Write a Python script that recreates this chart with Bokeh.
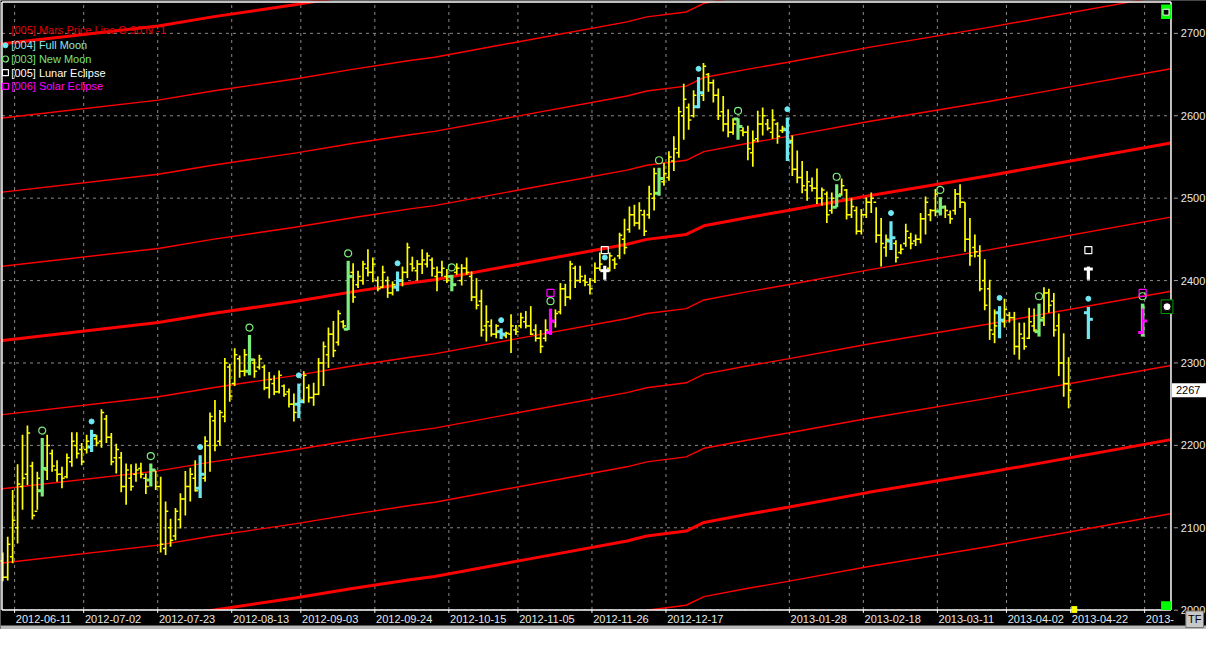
from bokeh.plotting import figure
from bokeh.models import ColumnDataSource, Range1d
from bokeh.core.properties import value
from bokeh.embed import file_html
from bokeh.resources import INLINE

# ---------------- data ----------------
high = [2070, 2089, 2146, 2177, 2213, 2224, 2180, 2168, 2209, 2213, 2195, 2182, 2174, 2190, 2216, 2216, 2203, 2213, 2219, 2213,
        2244, 2237, 2215, 2202, 2192, 2178, 2177, 2178, 2179, 2166, 2178, 2169, 2162, 2132, 2111, 2124, 2142, 2169, 2173, 2182,
        2188, 2211, 2240, 2255, 2243, 2306, 2299, 2318, 2309, 2317, 2334, 2305, 2310, 2298, 2289, 2285, 2291, 2274, 2269, 2263,
        2275, 2290, 2274, 2276, 2306, 2326, 2343, 2351, 2364, 2352, 2424, 2421, 2412, 2424, 2438, 2428, 2405, 2418, 2405, 2399,
        2411, 2417, 2446, 2429, 2425, 2438, 2434, 2428, 2417, 2424, 2414, 2407, 2421, 2420, 2428, 2411, 2403, 2389, 2370, 2353,
        2347, 2342, 2338, 2359, 2346, 2361, 2363, 2369, 2347, 2340, 2353, 2366, 2365, 2397, 2396, 2424, 2418, 2418, 2407, 2403,
        2422, 2434, 2418, 2434, 2428, 2458, 2475, 2490, 2492, 2495, 2486, 2515, 2537, 2537, 2543, 2557, 2575, 2611, 2639, 2615,
        2631, 2647, 2664, 2652, 2644, 2633, 2624, 2608, 2597, 2597, 2586, 2588, 2582, 2606, 2610, 2596, 2608, 2592, 2588, 2598,
        2576, 2558, 2545, 2533, 2525, 2536, 2513, 2508, 2507, 2517, 2524, 2511, 2500, 2490, 2487, 2501, 2507, 2489, 2476, 2456,
        2472, 2449, 2444, 2469, 2458, 2456, 2482, 2502, 2487, 2511, 2501, 2491, 2485, 2511, 2517, 2495, 2476, 2456, 2443, 2426,
        2401, 2365, 2369, 2378, 2362, 2362, 2349, 2349, 2367, 2366, 2372, 2392, 2390, 2385, 2360, 2336, 2307]
low = [2035, 2036, 2057, 2081, 2122, 2152, 2110, 2122, 2138, 2158, 2168, 2156, 2148, 2160, 2174, 2184, 2176, 2190, 2192, 2199,
       2197, 2203, 2176, 2166, 2143, 2128, 2145, 2156, 2160, 2141, 2150, 2146, 2070, 2067, 2077, 2085, 2099, 2115, 2132, 2144,
       2136, 2156, 2168, 2193, 2200, 2228, 2253, 2272, 2282, 2284, 2285, 2282, 2292, 2267, 2257, 2261, 2263, 2259, 2246, 2229,
       2233, 2251, 2252, 2248, 2261, 2272, 2294, 2307, 2321, 2342, 2340, 2373, 2391, 2395, 2405, 2398, 2387, 2391, 2379, 2382,
       2387, 2393, 2403, 2411, 2400, 2408, 2416, 2405, 2387, 2405, 2397, 2387, 2407, 2394, 2407, 2375, 2365, 2332, 2326, 2332,
       2330, 2329, 2330, 2312, 2334, 2342, 2342, 2334, 2326, 2312, 2326, 2334, 2343, 2359, 2369, 2377, 2391, 2397, 2393, 2383,
       2397, 2412, 2401, 2411, 2414, 2426, 2432, 2458, 2466, 2462, 2454, 2475, 2485, 2503, 2515, 2521, 2533, 2549, 2571, 2583,
       2598, 2609, 2618, 2629, 2616, 2595, 2581, 2574, 2577, 2571, 2575, 2546, 2538, 2568, 2576, 2582, 2572, 2566, 2579, 2545,
       2527, 2518, 2506, 2497, 2508, 2493, 2491, 2470, 2481, 2489, 2503, 2474, 2476, 2456, 2456, 2476, 2482, 2446, 2417, 2429,
       2437, 2422, 2432, 2441, 2438, 2442, 2445, 2456, 2472, 2478, 2479, 2476, 2469, 2480, 2488, 2435, 2418, 2428, 2387, 2364,
       2328, 2324, 2330, 2343, 2349, 2310, 2304, 2316, 2329, 2338, 2332, 2345, 2361, 2332, 2284, 2259, 2245]
opn = [2060, 2040, 2065, 2100, 2150, 2165, 2175, 2120, 2145, 2170, 2190, 2170, 2165, 2162, 2180, 2200, 2195, 2195, 2198, 2208,
       2205, 2232, 2210, 2185, 2185, 2150, 2160, 2165, 2172, 2160, 2158, 2170, 2150, 2075, 2100, 2090, 2110, 2135, 2150, 2160,
       2148, 2160, 2200, 2230, 2205, 2235, 2295, 2275, 2305, 2290, 2290, 2300, 2295, 2295, 2270, 2275, 2265, 2272, 2265, 2250,
       2250, 2255, 2270, 2258, 2262, 2300, 2310, 2335, 2325, 2350, 2341, 2410, 2395, 2400, 2415, 2410, 2400, 2392, 2400, 2385,
       2392, 2400, 2410, 2420, 2412, 2420, 2420, 2425, 2405, 2410, 2405, 2405, 2410, 2400, 2415, 2405, 2380, 2375, 2345, 2345,
       2335, 2338, 2333, 2335, 2340, 2345, 2350, 2345, 2340, 2330, 2330, 2337, 2350, 2362, 2390, 2380, 2415, 2400, 2400, 2395,
       2400, 2415, 2412, 2415, 2425, 2430, 2450, 2462, 2480, 2470, 2480, 2480, 2500, 2506, 2520, 2525, 2545, 2555, 2600, 2610,
       2600, 2611, 2625, 2650, 2640, 2625, 2605, 2590, 2580, 2596, 2582, 2580, 2555, 2572, 2590, 2590, 2580, 2590, 2582, 2583,
       2570, 2535, 2525, 2510, 2515, 2512, 2500, 2505, 2485, 2489, 2505, 2510, 2480, 2485, 2460, 2480, 2495, 2495, 2455, 2440,
       2448, 2445, 2434, 2445, 2452, 2448, 2450, 2475, 2480, 2485, 2484, 2490, 2480, 2485, 2505, 2495, 2450, 2440, 2430, 2400,
       2390, 2335, 2361, 2350, 2358, 2355, 2320, 2330, 2330, 2345, 2338, 2355, 2385, 2375, 2345, 2300, 2275]
cls = [2040, 2080, 2109, 2153, 2160, 2215, 2115, 2160, 2172, 2200, 2175, 2165, 2160, 2185, 2205, 2190, 2180, 2205, 2212, 2203,
       2240, 2210, 2180, 2195, 2150, 2170, 2150, 2170, 2165, 2150, 2170, 2150, 2080, 2120, 2085, 2120, 2135, 2150, 2165, 2145,
       2165, 2205, 2235, 2200, 2240, 2300, 2260, 2310, 2290, 2310, 2304, 2290, 2305, 2270, 2280, 2265, 2285, 2262, 2250, 2240,
       2253, 2285, 2258, 2262, 2300, 2320, 2335, 2315, 2360, 2345, 2405, 2380, 2405, 2420, 2410, 2420, 2390, 2410, 2385, 2395,
       2400, 2410, 2440, 2415, 2420, 2425, 2430, 2415, 2410, 2415, 2400, 2395, 2415, 2415, 2410, 2380, 2370, 2340, 2350, 2335,
       2345, 2335, 2336, 2345, 2338, 2355, 2345, 2335, 2330, 2320, 2340, 2351, 2360, 2390, 2380, 2420, 2400, 2405, 2398, 2390,
       2415, 2420, 2412, 2430, 2420, 2455, 2440, 2480, 2470, 2485, 2460, 2505, 2530, 2524, 2530, 2550, 2560, 2605, 2620, 2595,
       2625, 2628, 2660, 2640, 2625, 2600, 2590, 2580, 2590, 2587, 2580, 2560, 2570, 2590, 2600, 2585, 2595, 2575, 2585, 2568,
       2535, 2525, 2515, 2520, 2512, 2500, 2510, 2480, 2500, 2503, 2515, 2480, 2490, 2460, 2480, 2495, 2500, 2455, 2445, 2450,
       2452, 2428, 2438, 2460, 2445, 2450, 2475, 2495, 2485, 2505, 2489, 2485, 2475, 2505, 2495, 2450, 2430, 2435, 2390, 2370,
       2340, 2345, 2352, 2365, 2355, 2320, 2335, 2320, 2350, 2340, 2352, 2385, 2370, 2340, 2300, 2275, 2267]

full_moon_bars = [18, 40, 60, 80, 101, 122, 141, 159, 180, 202]
new_moon_bars = [8, 30, 50, 70, 91, 111, 133, 149, 169, 190, 210]
lunar_eclipse_bars = [122]
solar_eclipse_bars = [111]

# projected events (right of the last bar)
proj_full_moon = {"i": 220, "high": 2368, "low": 2329, "open": 2361, "close": 2353, "dot": 2378}
proj_lunar = {"i": 220, "high": 2417, "low": 2401, "mark": 2414, "square": 2437}
proj_new_moon = {"i": 231, "high": 2372, "low": 2332, "circle": 2381}
proj_solar = {"i": 231, "high": 2366, "low": 2335, "open": 2337, "close": 2351, "square": 2385}

# Mars price line (base harmonic), sampled at bar positions
mars_x = [-0.5, 31.5, 42.5, 59.5, 70.5, 82.5, 87.5, 106.5, 126.5, 130.5, 138.5, 142.1, 150.5, 159.1, 175.5, 199.5, 236.7]
mars_base = [2327, 2349, 2360, 2375, 2386, 2397, 2401, 2422, 2444, 2450, 2456, 2466.5, 2476, 2485, 2503, 2527, 2567]
mars_step = 90
mars_harmonics = [-5, -4, -3, -2, -1, 0, 1, 2, 3, 4]

date_grid = [2.4, 16.4, 31.4, 46.4, 60.4, 75.4, 90.4, 104.4, 119.4, 134.4, 159.4, 174.4, 189.4, 203.4, 216.4, 231.4]
date_labels = ["2012-06-11", "2012-07-02", "2012-07-23", "2012-08-13", "2012-09-03", "2012-09-24", "2012-10-15",
               "2012-11-05", "2012-11-26", "2012-12-17", "2013-01-28", "2013-02-18", "2013-03-11", "2013-04-02",
               "2013-04-22", "2013-"]
price_ticks = [2000, 2100, 2200, 2300, 2400, 2500, 2600, 2700]
last_price = 2267

# ---------------- styling ----------------
FONT = "Liberation Sans"
YELLOW = "#FFFF00"
CYAN = "#6FE8F2"
GREEN = "#7CEE7C"
MAGENTA = "#FF00FF"
WHITE = "#FFFFFF"
RED = "#FF0000"
GRID = "#8a8a8a"
LABEL = "#E8E8E8"


# layout helpers: position in the original screenshot (pixels) -> data coordinates
def X(px):
    return (px - 2.3) / 5.0


def Y(py):
    return 2300 - (py - 371.7) / 0.845


FR_L, FR_R = X(1.5), X(1186)       # plot frame (bars area) edges
FR_T, FR_B = Y(1.5), Y(625)

p = figure(width=1206, height=629, output_backend="svg", toolbar_location=None,
           x_range=Range1d(X(0), X(1222)), y_range=Range1d(Y(645), Y(0)),
           background_fill_color="black", border_fill_color="black",
           min_border=0, x_axis_type=None, y_axis_type=None)
p.outline_line_color = None
p.grid.visible = False

# dashed grid (date verticals, price horizontals)
p.segment(date_grid, [FR_B] * len(date_grid), date_grid, [FR_T] * len(date_grid),
          line_color=GRID, line_dash="3 4", line_width=1)
p.segment([FR_L] * len(price_ticks), price_ticks, [FR_R] * len(price_ticks), price_ticks,
          line_color=GRID, line_dash="3 4", line_width=1)

# Mars price lines
for k in mars_harmonics:
    ys = [b + k * mars_step for b in mars_base]
    thick = (k % 4 == 0)
    p.line(mars_x, ys, line_color=RED, line_width=3 if thick else 1.4)

# bars
n = len(high)
special = set(full_moon_bars) | set(new_moon_bars) | set(lunar_eclipse_bars) | set(solar_eclipse_bars)


def bar_color(i):
    if i in lunar_eclipse_bars:
        return WHITE
    if i in solar_eclipse_bars:
        return MAGENTA
    if i in full_moon_bars:
        return CYAN
    if i in new_moon_bars:
        return GREEN
    return YELLOW


norm = [i for i in range(n) if i not in special]
spec = [i for i in range(n) if i in special]

src_n = ColumnDataSource(dict(x=norm, h=[high[i] for i in norm], l=[low[i] for i in norm],
                              o=[opn[i] for i in norm], c=[cls[i] for i in norm],
                              xl=[i - 0.55 for i in norm], xr=[i + 0.55 for i in norm]))
p.segment("x", "l", "x", "h", source=src_n, line_color=YELLOW, line_width=1.7)
p.segment("xl", "o", "x", "o", source=src_n, line_color=YELLOW, line_width=1.5)
p.segment("x", "c", "xr", "c", source=src_n, line_color=YELLOW, line_width=1.5)

src_s = ColumnDataSource(dict(x=spec, h=[high[i] for i in spec], l=[low[i] for i in spec],
                              o=[opn[i] for i in spec], c=[cls[i] for i in spec],
                              xl=[i - 0.9 for i in spec], xr=[i + 0.9 for i in spec],
                              col=[bar_color(i) for i in spec]))
p.segment("x", "l", "x", "h", source=src_s, line_color="col", line_width=3.2)
p.segment("xl", "o", "x", "o", source=src_s, line_color="col", line_width=3)
p.segment("x", "c", "xr", "c", source=src_s, line_color="col", line_width=3)

# event markers above bars
p.scatter(full_moon_bars, [high[i] + 10 for i in full_moon_bars], marker="circle",
          size=5, fill_color=CYAN, line_color=CYAN)
p.scatter(new_moon_bars, [high[i] + 9 for i in new_moon_bars], marker="circle",
          size=7, fill_color=None, line_color=GREEN, line_width=1.2)
p.scatter(lunar_eclipse_bars, [high[i] + 19 for i in lunar_eclipse_bars], marker="square",
          size=7, fill_color=None, line_color=WHITE, line_width=1.2)
p.scatter(solar_eclipse_bars, [high[i] + 19 for i in solar_eclipse_bars], marker="square",
          size=7, fill_color=None, line_color=MAGENTA, line_width=1.2)

# projected events
f = proj_full_moon
p.segment([f["i"]], [f["low"]], [f["i"]], [f["high"]], line_color=CYAN, line_width=3.2)
p.segment([f["i"] - 0.9], [f["open"]], [f["i"]], [f["open"]], line_color=CYAN, line_width=3)
p.segment([f["i"]], [f["close"]], [f["i"] + 0.9], [f["close"]], line_color=CYAN, line_width=3)
p.scatter([f["i"]], [f["dot"]], marker="circle", size=5, fill_color=CYAN, line_color=CYAN)
le = proj_lunar
p.segment([le["i"]], [le["low"]], [le["i"]], [le["high"]], line_color=WHITE, line_width=3.2)
p.segment([le["i"] - 0.9], [le["mark"]], [le["i"] + 0.9], [le["mark"]], line_color=WHITE, line_width=3)
p.scatter([le["i"]], [le["square"]], marker="square", size=7, fill_color=None, line_color=WHITE, line_width=1.2)
nm = proj_new_moon
p.segment([nm["i"]], [nm["low"]], [nm["i"]], [nm["high"]], line_color=GREEN, line_width=3.6)
p.scatter([nm["i"]], [nm["circle"]], marker="circle", size=7, fill_color=None, line_color=GREEN, line_width=1.2)
se = proj_solar
p.segment([se["i"]], [se["low"]], [se["i"]], [se["high"]], line_color=MAGENTA, line_width=2)
p.segment([se["i"] - 0.9], [se["open"]], [se["i"]], [se["open"]], line_color=MAGENTA, line_width=3)
p.segment([se["i"]], [se["close"]], [se["i"] + 0.9], [se["close"]], line_color=MAGENTA, line_width=3)
p.scatter([se["i"]], [se["square"]], marker="square", size=7, fill_color=None, line_color=MAGENTA, line_width=1.2)

# masks outside the frame (bottom strip, right strip, top sliver)
p.quad(left=[X(0)], right=[X(1222)], bottom=[Y(645)], top=[FR_B], fill_color="black", line_color=None)
p.quad(left=[FR_R], right=[X(1222)], bottom=[Y(645)], top=[Y(0)], fill_color="black", line_color=None)
p.quad(left=[X(0)], right=[X(1222)], bottom=[FR_T], top=[Y(0)], fill_color="black", line_color=None)
p.quad(left=[X(0)], right=[X(1222)], bottom=[Y(645)], top=[Y(641)], fill_color="#B8B8B8", line_color=None)

# white frame
p.segment([FR_L, FR_L, FR_R, FR_L], [FR_B, FR_T, FR_T, FR_B], [FR_L, FR_R, FR_R, FR_R], [FR_T, FR_T, FR_B, FR_B],
          line_color=WHITE, line_width=1.5)

# price axis (right)
p.segment([X(1189)] * len(price_ticks), price_ticks, [X(1193)] * len(price_ticks), price_ticks,
          line_color="#A0A0A0", line_width=1)
p.text([X(1196)] * len(price_ticks), price_ticks, text=[str(t) for t in price_ticks], text_color=LABEL,
       text_font=value(FONT), text_font_size="11px", text_baseline="middle", text_align="left")

# date axis (bottom)
p.segment(date_grid, [FR_B] * len(date_grid), date_grid, [Y(628)] * len(date_grid),
          line_color=WHITE, line_width=1)
p.text([g + 0.25 for g in date_grid], [Y(634)] * len(date_grid), text=date_labels, text_color=LABEL,
       text_font=value(FONT), text_font_size="11px", text_baseline="middle", text_align="left")

# legend
legend_rows = [("[005] Mars Price Line G 90 N -1", "#E00000", 30),
               ("[004] Full Moon", "#8FE6E6", 46),
               ("[003] New Moon", "#7CE07C", 60),
               ("[005] Lunar Eclipse", WHITE, 74),
               ("[006] Solar Eclipse", MAGENTA, 88)]
for txt, col, py in legend_rows:
    p.text([X(11)], [Y(py)], text=[txt], text_color=col, text_font=value(FONT),
           text_font_size="11px", text_baseline="middle", text_align="left")
p.scatter([X(5)], [Y(46)], marker="circle", size=5, fill_color=CYAN, line_color=CYAN)
p.scatter([X(5)], [Y(60)], marker="circle", size=6, fill_color=None, line_color=GREEN, line_width=1.2)
p.scatter([X(5)], [Y(74)], marker="square", size=6, fill_color=None, line_color=WHITE, line_width=1.2)
p.scatter([X(5)], [Y(88)], marker="square", size=6, fill_color=None, line_color=MAGENTA, line_width=1.2)

# corner widgets
p.quad(left=[X(1176)], right=[X(1186)], top=[Y(4)], bottom=[Y(19)], fill_color="#00FF00", line_color=None)
p.quad(left=[X(1178)], right=[X(1184)], top=[Y(9)], bottom=[Y(15)], fill_color="black", line_color="white")
p.quad(left=[X(1176)], right=[X(1186)], top=[Y(616)], bottom=[Y(625)], fill_color="#00FF00", line_color=None)
p.quad(left=[X(1176)], right=[X(1188)], top=[Y(307)], bottom=[Y(321)], fill_color="black", line_color="#00A000")
p.scatter([X(1182)], [Y(314)], marker="circle", size=8, fill_color="white", line_color="black")
p.quad(left=[X(1085)], right=[X(1091)], top=[Y(621)], bottom=[Y(628)], fill_color="#FFFF00", line_color=None)

# current price tag
p.quad(left=[X(1187)], right=[X(1222)], top=[last_price + 8.5], bottom=[last_price - 8.5],
       fill_color="white", line_color=None)
p.text([X(1191)], [last_price], text=[str(last_price)], text_color="black", text_font=value(FONT),
       text_font_size="11px", text_baseline="middle", text_align="left")

# TF button
p.quad(left=[X(1201)], right=[X(1219)], top=[Y(626)], bottom=[Y(643)], fill_color="#C8C8C8", line_color="#707070")
p.text([X(1210)], [Y(634.5)], text=["TF"], text_color="black", text_font=value(FONT),
       text_font_size="11px", text_baseline="middle", text_align="center")

open("out.html", "w").write(file_html(p, INLINE))
